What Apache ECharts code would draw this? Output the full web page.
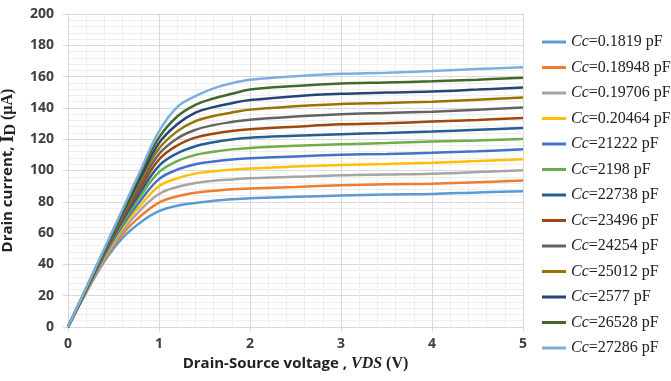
<!DOCTYPE html>
<html>
<head>
<meta charset="utf-8">
<script src="https://cdn.jsdelivr.net/npm/echarts@6/dist/echarts.min.js"></script>
<style>
  html, body { margin: 0; padding: 0; background: #fff; }
  #chart { width: 671px; height: 381px; }
</style>
</head>
<body>
<div id="chart"></div>
<script>
// drain-source voltage points (V)
var vds = [0, 0.2, 0.4, 0.6, 0.8, 1.0, 1.2, 1.4, 1.6, 1.8, 2.0, 2.5, 3.0, 3.5, 4.0, 4.5, 5.0];

var names = ['Cc=0.1819 pF', 'Cc=0.18948 pF', 'Cc=0.19706 pF', 'Cc=0.20464 pF', 'Cc=21222 pF',
    'Cc=2198 pF', 'Cc=22738 pF', 'Cc=23496 pF', 'Cc=24254 pF', 'Cc=25012 pF',
    'Cc=2577 pF', 'Cc=26528 pF', 'Cc=27286 pF'];

// drain current (uA), one array per curve
var id0  = [0, 22.0, 42.0, 57.0, 67.0, 74.0, 77.5, 79.3, 80.6, 81.6, 82.3, 83.2, 84.0, 84.6, 85.0, 86.0, 86.8];
var id1  = [0, 22.3, 43.0, 59.5, 71.0, 79.5, 83.5, 85.8, 87.0, 88.0, 88.5, 89.5, 90.5, 91.2, 91.5, 92.5, 93.6];
var id2  = [0, 22.6, 44.0, 61.5, 75.0, 85.0, 89.5, 92.0, 93.5, 94.3, 95.0, 96.0, 97.0, 97.5, 98.0, 99.0, 100.2];
var id3  = [0, 22.9, 44.8, 63.5, 78.0, 90.0, 95.0, 98.0, 99.5, 100.5, 101.2, 102.5, 103.5, 104.2, 105.0, 106.0, 107.2];
var id4  = [0, 23.2, 45.5, 65.0, 81.0, 94.5, 100.5, 104.0, 105.8, 107.0, 107.8, 109.0, 110.0, 110.6, 111.3, 112.3, 113.6];
var id5  = [0, 23.5, 46.2, 66.5, 84.0, 99.0, 106.0, 110.0, 112.0, 113.5, 114.4, 115.8, 116.8, 117.5, 118.5, 119.2, 120.2];
var id6  = [0, 23.8, 47.0, 68.0, 86.5, 103.0, 111.0, 115.5, 118.0, 119.8, 121.0, 122.2, 123.2, 124.0, 124.9, 126.0, 127.2];
var id7  = [0, 24.0, 47.6, 69.5, 89.0, 107.0, 116.0, 121.0, 123.5, 125.2, 126.3, 128.0, 129.5, 130.2, 131.3, 132.3, 133.6];
var id8  = [0, 24.2, 48.2, 70.8, 91.5, 110.5, 120.5, 126.0, 129.0, 131.0, 132.5, 134.5, 136.0, 136.8, 137.6, 138.8, 140.2];
var id9  = [0, 24.4, 48.8, 72.0, 94.0, 114.0, 125.0, 131.5, 134.8, 137.0, 138.9, 141.0, 142.5, 143.2, 144.0, 145.2, 146.6];
var id10 = [0, 24.6, 49.3, 73.2, 96.0, 117.5, 129.5, 137.0, 140.5, 143.0, 145.0, 147.5, 149.0, 149.8, 150.5, 151.7, 153.0];
var id11 = [0, 24.8, 49.7, 74.2, 98.5, 121.0, 134.5, 142.0, 146.0, 149.0, 151.7, 154.0, 155.6, 156.3, 157.0, 158.0, 159.3];
var id12 = [0, 25.0, 50.2, 75.2, 100.5, 125.0, 140.5, 147.5, 152.5, 155.8, 158.0, 160.3, 161.8, 162.5, 163.6, 164.8, 166.0];

var allCurves = [id0, id1, id2, id3, id4, id5, id6, id7, id8, id9, id10, id11, id12];

var colorList = ['#5B9BD5', '#ED7D31', '#A5A5A5', '#FFC000', '#4472C4', '#70AD47', '#255E91',
    '#9E480E', '#636363', '#997300', '#264478', '#43682B', '#7CAFDD'];

var series = [];
for (var i = 0; i < allCurves.length; i++) {
    var pts = [];
    for (var k = 0; k < vds.length; k++) {
        pts.push([vds[k], allCurves[i][k]]);
    }
    series.push({
        name: names[i],
        type: 'line',
        data: pts,
        smooth: 0.4,
        showSymbol: false,
        symbol: 'none',
        lineStyle: { width: 2.5, color: colorList[i] },
        itemStyle: { color: colorList[i] }
    });
}

var labelColor = '#404040';
var chart = echarts.init(document.getElementById('chart'));
chart.setOption({
    animation: false,
    grid: { left: 68, right: 148, top: 14, bottom: 54, outerBoundsMode: 'none', containLabel: false },
    legend: {
        orient: 'vertical',
        left: 542,
        top: 34,
        padding: 0,
        icon: 'rect',
        itemWidth: 24,
        itemHeight: 3,
        itemGap: 9.5,
        data: names,
        formatter: function (name) {
            return '{i|Cc}{n|' + name.substring(2) + '}';
        },
        textStyle: {
            lineHeight: 16,
            rich: {
                i: { fontFamily: 'Liberation Serif', fontStyle: 'italic', fontSize: 16, color: '#222' },
                n: { fontFamily: 'Liberation Serif', fontSize: 16, color: '#222' }
            }
        }
    },
    xAxis: {
        type: 'value',
        min: 0,
        max: 5,
        interval: 1,
        name: '{a|Drain-Source voltage , }{b|VDS}{c| (V)}',
        nameLocation: 'middle',
        nameGap: 27,
        nameTextStyle: {
            rich: {
                a: { fontFamily: 'Open Sans', fontWeight: 'bold', fontSize: 15, color: '#222' },
                b: { fontFamily: 'Liberation Serif', fontWeight: 'bold', fontStyle: 'italic', fontSize: 16, color: '#222' },
                c: { fontFamily: 'Liberation Serif', fontWeight: 'bold', fontSize: 16, color: '#222' }
            }
        },
        axisLine: { show: true, lineStyle: { color: '#d9d9d9' } },
        axisTick: { show: true, length: 5, lineStyle: { color: '#d9d9d9' } },
        axisLabel: { margin: 10, fontFamily: 'Open Sans', fontWeight: 'bold', fontSize: 14, color: labelColor },
        splitLine: { show: true, lineStyle: { color: '#d9d9d9' } },
        minorTick: { show: false, splitNumber: 5 },
        minorSplitLine: { show: true, lineStyle: { color: '#eeeeee' } }
    },
    yAxis: {
        type: 'value',
        min: 0,
        max: 200,
        interval: 20,
        name: '{a|Drain current, }{b|I}{s|D}{c| (µA)}',
        nameLocation: 'middle',
        nameGap: 38,
        nameTextStyle: {
            rich: {
                a: { fontFamily: 'Open Sans', fontWeight: 'bold', fontSize: 15, color: '#222' },
                b: { fontFamily: 'Liberation Serif', fontWeight: 'bold', fontSize: 18, color: '#222' },
                s: { fontFamily: 'Liberation Serif', fontWeight: 'bold', fontSize: 16, color: '#222', verticalAlign: 'bottom', padding: [6, 0, 0, 0] },
                c: { fontFamily: 'Liberation Serif', fontWeight: 'bold', fontSize: 16, color: '#222' }
            }
        },
        axisLine: { show: true, lineStyle: { color: '#d9d9d9' } },
        axisTick: { show: true, length: 5, lineStyle: { color: '#d9d9d9' } },
        axisLabel: { margin: 14, fontFamily: 'Open Sans', fontWeight: 'bold', fontSize: 14, color: labelColor },
        splitLine: { show: true, lineStyle: { color: '#d9d9d9' } },
        minorTick: { show: false, splitNumber: 5 },
        minorSplitLine: { show: true, lineStyle: { color: '#eeeeee' } }
    },
    series: series
});
</script>
</body>
</html>
